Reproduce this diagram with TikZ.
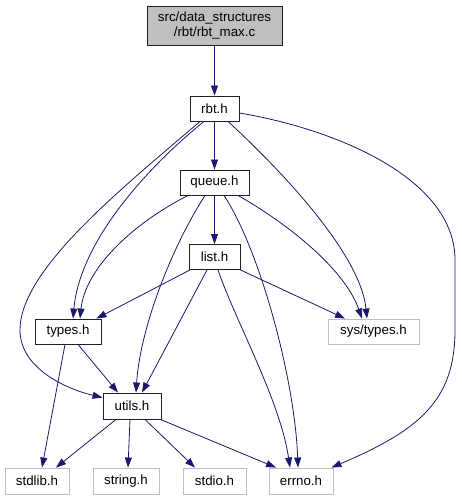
\documentclass[tikz,border=0pt]{standalone}
\usepackage{fontspec}
\setmainfont{Liberation Sans}
\usetikzlibrary{arrows.meta}
\definecolor{edgeblue}{HTML}{191970}
\definecolor{extgrey}{HTML}{BFBFBF}
\definecolor{boxblack}{HTML}{202020}
\begin{document}
\begin{tikzpicture}[x=1pt,y=-1pt,
  every node/.style={font=\fontsize{13.3}{15.5}\selectfont, inner sep=0pt, align=center},
  filebox/.style={draw=boxblack, line width=0.9pt, fill=white, minimum height=25pt},
  extbox/.style={draw=extgrey, line width=0.9pt, fill=white, minimum height=26pt},
  topbox/.style={draw=boxblack, line width=0.9pt, fill=extgrey, minimum width=135pt, minimum height=39pt},
  dep/.style={draw=edgeblue, line width=0.8pt, -{Triangle[length=10pt,width=7pt]}}]
\path[use as bounding box] (0,0) rectangle (461,500);

\node[topbox] (top) at (214.5,25.5) {src/data\_structures\\/rbt/rbt\_max.c};
\node[filebox, minimum width=49pt] (rbt) at (214.5,108.5) {rbt.h};
\node[filebox, minimum width=69pt] (queue) at (214.5,182.5) {queue.h};
\node[filebox, minimum width=51pt] (list) at (214.5,257) {list.h};
\node[filebox, minimum width=66pt] (types) at (68,331.5) {types.h};
\node[extbox, minimum width=91pt, minimum height=25pt] (systypes) at (373.5,331.5) {sys/types.h};
\node[filebox, minimum width=58pt, minimum height=26pt] (utils) at (132,406) {utils.h};
\node[extbox, minimum width=64pt] (stdlib) at (37,481) {stdlib.h};
\node[extbox, minimum width=66pt] (string) at (126,481) {string.h};
\node[extbox, minimum width=63pt] (stdio) at (214.5,481) {stdio.h};
\node[extbox, minimum width=64pt] (errno) at (301,481) {errno.h};

% top level
\draw[dep] (top) -- (rbt);
\draw[dep] (rbt) -- (queue);
\draw[dep] (queue) -- (list);

% rbt.h
\draw[dep] ([xshift=-10.5pt]rbt.south) .. controls (150,165) and (80,240) .. ([xshift=5pt]types.north);
\draw[dep] ([xshift=-14.5pt]rbt.south) .. controls (120,190) and (20,270) .. (20,330)
  .. controls (20,370) and (70,390) .. ([yshift=-5pt]utils.north west);
\draw[dep] ([xshift=13.5pt]rbt.south) .. controls (270,160) and (360,250) .. ([xshift=-6.5pt]systypes.north);
\draw[dep] ([yshift=-4.5pt]rbt.east) .. controls (340,130) and (455,180) .. (455,260)
  -- (455,330) .. controls (455,400) and (420,430) .. ([xshift=-2pt]errno.north east);

% queue.h
\draw[dep] ([xshift=-26.5pt]queue.south) .. controls (130,225) and (85,270) .. ([xshift=12pt]types.north);
\draw[dep] ([xshift=-9.5pt]queue.south) .. controls (170,250) and (140,330) .. ([xshift=4pt]utils.north);
\draw[dep] ([xshift=9.5pt]queue.south) .. controls (260,250) and (295,380) .. ([xshift=-3pt]errno.north);
\draw[dep] ([xshift=23.5pt]queue.south) .. controls (290,225) and (345,270) .. ([xshift=-11.5pt]systypes.north);

% list.h
\draw[dep] ([xshift=-24.5pt]list.south) -- ([xshift=-5pt]types.north east);
\draw[dep] ([xshift=-7.5pt]list.south) -- ([xshift=10pt]utils.north);
\draw[dep] ([xshift=3.5pt]list.south) .. controls (235,320) and (280,400) .. ([xshift=-11pt]errno.north);
\draw[dep] (list.south east) -- ([xshift=-28.5pt]systypes.north);

% types.h
\draw[dep] ([xshift=-3pt]types.south) -- ([xshift=5pt]stdlib.north);
\draw[dep] ([xshift=10pt]types.south) -- ([xshift=-14pt]utils.north);

% utils.h
\draw[dep] ([xshift=-16pt]utils.south) -- ([xshift=19pt]stdlib.north);
\draw[dep] ([xshift=-2pt]utils.south) -- ([xshift=2pt]string.north);
\draw[dep] ([xshift=13pt]utils.south) -- ([xshift=-19.5pt]stdio.north);
\draw[dep] ([xshift=-1pt]utils.south east) -- ([xshift=-25pt]errno.north);
\end{tikzpicture}
\end{document}
